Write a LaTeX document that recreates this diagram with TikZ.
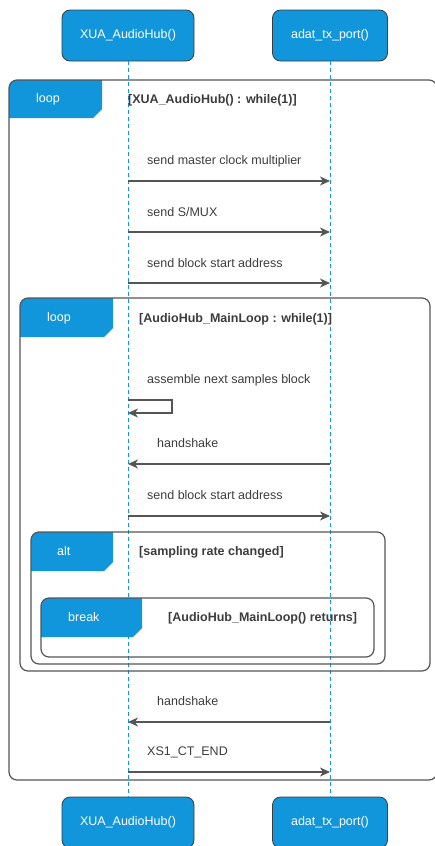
\documentclass[tikz,border=0pt]{standalone}
\usepackage{fontspec}
\setmainfont{Liberation Sans}
\usetikzlibrary{arrows.meta, positioning}
\definecolor{hubblue}{HTML}{1296DB}
\definecolor{linegray}{HTML}{555555}
\definecolor{textgray}{HTML}{3C3C3C}
\tikzset{
  participant/.style={
    draw=linegray!70!black,
    fill=hubblue,
    rectangle,
    rounded corners=8pt,
    line width=0.8pt,
    minimum height=51pt,
    text=white,
    font=\fontsize{12.5}{15}\selectfont,
  },
  lifeline/.style={
    hubblue,
    line width=0.9pt,
    dash pattern=on 4pt off 3pt
  },
  frame/.style={
    draw=linegray,
    line width=1.2pt,
    rounded corners=8pt
  },
  tabfill/.style={
    fill=hubblue
  },
  tablabel/.style={
    anchor=west,
    inner sep=0pt,
    text=white,
    font=\fontsize{12.5}{15}\selectfont
  },
  guard/.style={
    anchor=west,
    inner sep=0pt,
    text=textgray,
    font=\fontsize{12.5}{15}\selectfont\bfseries
  },
  msglabel/.style={
    anchor=west,
    inner sep=0pt,
    text=textgray,
    font=\fontsize{12.5}{15}\selectfont
  },
  msg/.style={
    linegray,
    line width=1.1pt,
    -{Stealth[length=10pt,width=9pt,inset=3pt]}
  }
}

\begin{document}
\begin{tikzpicture}[x=1pt,y=-1pt]
\useasboundingbox (0,0) rectangle (435,846);

% --- Participants ---
\node[participant, minimum width=132pt] (hubT) at (128,35.5) {XUA\_AudioHub()};
\node[participant, minimum width=115pt] (txT) at (330,35.5) {adat\_tx\_port()};
\node[participant, minimum width=132pt] (hubB) at (128,822.5) {XUA\_AudioHub()};
\node[participant, minimum width=115pt] (txB) at (330,822.5) {adat\_tx\_port()};

% --- Lifelines ---
\draw[lifeline] (hubT.south) -- (hubB.north);
\draw[lifeline] (txT.south) -- (txB.north);

% --- Points on the lifelines ---
\foreach \n/\y in {1/181,2/232,3/283,4/464,5/516,6/722,7/772}{
  \coordinate (hub\n) at (hubT.south |- 0,\y);
  \coordinate (tx\n) at (txT.south |- 0,\y);
}
\coordinate (self1) at (hubT.south |- 0,400);
\coordinate (self2) at (hubT.south |- 0,413);

% --- Outer loop ---
\begin{scope}
  \clip[rounded corners=8pt] (9,80) rectangle (437,780);
  \fill[tabfill] (9,80) -- (102,80) -- (102,109) -- (93,118) -- (9,118) -- cycle;
\end{scope}
\draw[frame] (9,80) rectangle (437,780);
\node[tablabel] (loopA) at (36,99) {loop};
\node[guard] (guardA) at (128,100) {[XUA\_AudioHub() : while(1)]};

% --- Messages before the main loop ---
\node[msglabel] (m1) at (147,161) {send master clock multiplier};
\draw[msg] (hub1) -- (tx1);
\node[msglabel] (m2) at (147,212) {send S/MUX};
\draw[msg] (hub2) -- (tx2);
\node[msglabel] (m3) at (147,263) {send block start address};
\draw[msg] (hub3) -- (tx3);

% --- Inner loop ---
\begin{scope}
  \clip[rounded corners=8pt] (20,298) rectangle (430,671);
  \fill[tabfill] (20,298) -- (113,298) -- (113,328) -- (104,337) -- (20,337) -- cycle;
\end{scope}
\draw[frame] (20,298) rectangle (430,671);
\node[tablabel] (loopB) at (47,318) {loop};
\node[guard] (guardB) at (139,319) {[AudioHub\_MainLoop : while(1)]};

\node[msglabel] (m4) at (147,380) {assemble next samples block};
\draw[msg] (self1) -- ++(44,0) |- (self2);
\node[msglabel] (m5) at (157,443) {handshake};
\draw[msg] (tx4) -- (hub4);
\node[msglabel] (m6) at (147,495) {send block start address};
\draw[msg] (hub5) -- (tx5);

% --- Alt ---
\begin{scope}
  \clip[rounded corners=8pt] (31,532) rectangle (385,664);
  \fill[tabfill] (31,532) -- (113,532) -- (113,562) -- (104,571) -- (31,571) -- cycle;
\end{scope}
\draw[frame] (31,532) rectangle (385,664);
\node[tablabel] (altA) at (57,551) {alt};
\node[guard] (guardC) at (139,552) {[sampling rate changed]};

% --- Break ---
\begin{scope}
  \clip[rounded corners=8pt] (41,598) rectangle (374,657);
  \fill[tabfill] (41,598) -- (142,598) -- (142,628) -- (133,637) -- (41,637) -- cycle;
\end{scope}
\draw[frame] (41,598) rectangle (374,657);
\node[tablabel] (breakA) at (68,617) {break};
\node[guard] (guardD) at (168,618) {[AudioHub\_MainLoop() returns]};

% --- Messages after the main loop ---
\node[msglabel] (m7) at (157,701) {handshake};
\draw[msg] (tx6) -- (hub6);
\node[msglabel] (m8) at (147,752) {XS1\_CT\_END};
\draw[msg] (hub7) -- (tx7);

\end{tikzpicture}
\end{document}
